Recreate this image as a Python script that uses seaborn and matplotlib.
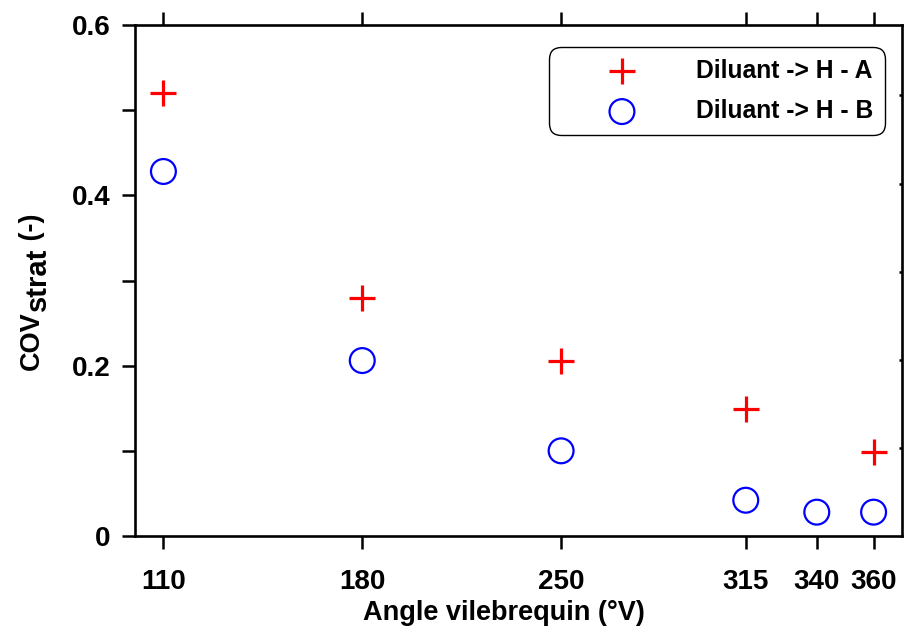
import matplotlib
matplotlib.use("Agg")
import matplotlib.pyplot as plt
import seaborn as sns
import pandas as pd
from matplotlib.ticker import FixedLocator, NullFormatter

# data
x_a = [110, 180, 250, 315, 360]
y_a = [0.52, 0.28, 0.205, 0.149, 0.099]
x_b = [110, 180, 250, 315, 340, 360]
y_b = [0.428, 0.206, 0.100, 0.042, 0.028, 0.028]
label_a = "Diluant -> H - A"
label_b = "Diluant -> H - B"
xticks = [110, 180, 250, 315, 340, 360]
yticks = [0, 0.2, 0.4, 0.6]
ytick_labels = ["0", "0.2", "0.4", "0.6"]
yminor = [0.1, 0.3, 0.5]
right_ticks = [0.1, 0.2, 0.3, 0.4, 0.5]

sns.set_theme(style="white")
plt.rcParams["font.family"] = ["Liberation Sans", "DejaVu Sans"]
plt.rcParams["font.weight"] = "bold"
for k in ["text.color", "axes.labelcolor", "xtick.color", "ytick.color", "axes.edgecolor"]:
    plt.rcParams[k] = "black"

W, H = 906, 634
fig = plt.figure(figsize=(W/100, H/100), dpi=100)
ax = fig.add_axes([135/W, 1-536/H, (902-135)/W, (536-25)/H])

df_a = pd.DataFrame({"x": x_a, "y": y_a})
df_b = pd.DataFrame({"x": x_b, "y": y_b})
sns.scatterplot(data=df_a, x="x", y="y", ax=ax, marker="+", s=340,
                color="#ff0000", linewidth=2.3, label=label_a, zorder=3)
sns.scatterplot(data=df_b, x="x", y="y", ax=ax, marker="o", s=320,
                facecolor="none", edgecolor="#0000ff", linewidth=1.6,
                label=label_b, zorder=3)

ax.set_xlim(100, 370)
ax.set_ylim(0, 0.6)
ax.xaxis.set_major_locator(FixedLocator(xticks))
ax.set_xticklabels([str(v) for v in xticks])
ax.yaxis.set_major_locator(FixedLocator(yticks))
ax.set_yticklabels(ytick_labels)
ax.yaxis.set_minor_locator(FixedLocator(yminor))

for sp in ax.spines.values():
    sp.set_visible(True)
    sp.set_color("black")
    sp.set_linewidth(1.9)

ax.tick_params(axis="both", which="both", direction="out", length=9.4,
               width=1.8, color="black", top=True, right=False,
               bottom=True, left=True)
ax.tick_params(axis="both", which="major", labelsize=20, pad=8)
ax.tick_params(axis="x", which="major", pad=14.5)
for lab in ax.get_xticklabels() + ax.get_yticklabels():
    lab.set_fontweight("bold")

ax.set_xlabel("Angle vilebrequin (°V)", fontsize=19.5, fontweight="bold")
ax.xaxis.set_label_coords((504-135)/767, -(600-536)/511)
ax.set_ylabel("")

# secondary right axis with short inward ticks
ax2 = ax.twinx()
ax2.set_ylim(0, 0.58)
ax2.yaxis.set_major_locator(FixedLocator(right_ticks))
ax2.yaxis.set_major_formatter(NullFormatter())
ax2.tick_params(axis="y", which="major", direction="in", length=2.5,
                width=1.8, color="black", right=True, left=False)
ax2.grid(False)
for sp in ax2.spines.values():
    sp.set_visible(False)

leg = ax.legend(loc="upper right", bbox_to_anchor=((885-135)/767, (536-47)/511),
                borderaxespad=0, frameon=True, fancybox=True,
                edgecolor="black", borderpad=0.48, handlelength=4.98,
                handletextpad=0.52, labelspacing=0.66,
                prop={"weight": "bold", "size": 17.7})
leg.get_frame().set_linewidth(1.0)
leg.get_frame().set_alpha(1)
leg.get_frame().set_boxstyle("round,pad=0,rounding_size=0.5")
leg.set_zorder(10)

# y label composed of pieces (subscript)
renderer = fig.canvas.get_renderer()
y_start = 370
t1 = fig.text(39/W, 1-y_start/H, "COV", rotation=90, rotation_mode="anchor",
              ha="left", va="baseline", fontsize=19.5, fontweight="bold")
h1 = t1.get_window_extent(renderer).height
t2 = fig.text(46/W, 1-(y_start-h1)/H, "strat", rotation=90, rotation_mode="anchor",
              ha="left", va="baseline", fontsize=21, fontweight="bold")
h2 = t2.get_window_extent(renderer).height
t3 = fig.text(39/W, 1-(y_start-h1-h2)/H, " (-)", rotation=90, rotation_mode="anchor",
              ha="left", va="baseline", fontsize=19.5, fontweight="bold")

fig.savefig("out.png", dpi=100)
